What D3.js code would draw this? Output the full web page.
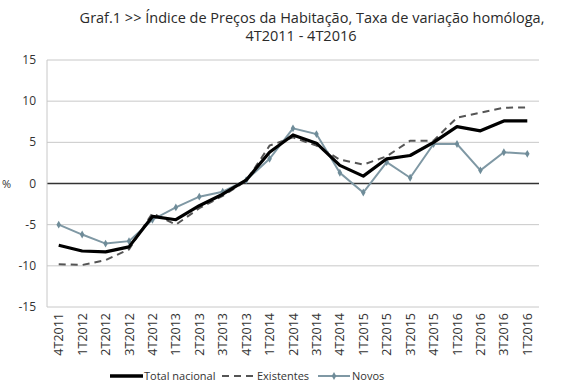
<!DOCTYPE html>
<html>
<head>
<meta charset="utf-8">
<script src="https://cdn.jsdelivr.net/npm/d3@7"></script>
<style>
  body { margin: 0; background: #fff; }
  text { font-family: "Open Sans", "Liberation Sans", sans-serif; }
</style>
</head>
<body>
<svg id="chart" width="580" height="387"></svg>
<script>
var quarters = ["4T2011","1T2012","2T2012","3T2012","4T2012","1T2013","2T2013","3T2013","4T2013",
  "1T2014","2T2014","3T2014","4T2014","1T2015","2T2015","3T2015","4T2015","1T2016","2T2016","3T2016","1T2016b"];
var quarterLabels = ["4T2011","1T2012","2T2012","3T2012","4T2012","1T2013","2T2013","3T2013","4T2013",
  "1T2014","2T2014","3T2014","4T2014","1T2015","2T2015","3T2015","4T2015","1T2016","2T2016","3T2016","1T2016"];
var totalNacional = [-7.5,-8.2,-8.3,-7.7,-4.0,-4.4,-2.7,-1.3,0.4,3.8,5.9,4.9,2.2,0.9,3.0,3.4,5.0,6.9,6.4,7.6,7.6];
var existentes = [-9.8,-9.9,-9.3,-8.0,-3.6,-5.0,-3.0,-1.5,0.3,4.6,5.6,4.6,2.9,2.3,3.3,5.2,5.2,8.0,8.6,9.2,9.25];
var novos = [-5.0,-6.2,-7.3,-7.0,-4.4,-2.9,-1.6,-1.0,0.4,3.0,6.7,6.0,1.3,-1.1,2.6,0.7,4.8,4.8,1.6,3.8,3.6];
var yTicks = [-15,-10,-5,0,5,10,15];

var svg = d3.select("#chart");
var margin = { top: 60, left: 47, right: 41, bottom: 80 },
    width = 580 - margin.left - margin.right,
    height = 307 - margin.top;

var g = svg.append("g").attr("transform", "translate(" + margin.left + "," + margin.top + ")");

var x = d3.scaleBand().domain(quarters).range([0, width]);
var y = d3.scaleLinear().domain([-15, 15]).range([height, 0]);
var cx = function(i) { return x(quarters[i]) + x.bandwidth() / 2; };

// title
svg.append("text").attr("x", 312).attr("y", 23).attr("text-anchor", "middle")
  .style("font-size", "14.5px").attr("fill", "#2a2a2a")
  .text("Graf.1  >> Índice de Preços da Habitação, Taxa de variação homóloga,");
svg.append("text").attr("x", 301).attr("y", 41).attr("text-anchor", "middle")
  .style("font-size", "14.5px").attr("fill", "#2a2a2a")
  .text("4T2011 - 4T2016");

// gridlines
g.selectAll(".grid").data(yTicks).enter().append("line")
  .attr("x1", 0).attr("x2", width)
  .attr("y1", function(d) { return y(d); }).attr("y2", function(d) { return y(d); })
  .attr("stroke", function(d) { return d === 0 ? "#333" : "#c8c8c8"; })
  .attr("stroke-width", function(d) { return d === 0 ? 1.5 : 1; });

g.append("line").attr("x1", 0).attr("x2", 0).attr("y1", 0).attr("y2", height)
  .attr("stroke", "#c8c8c8");

// y labels
g.selectAll(".ylab").data(yTicks).enter().append("text")
  .attr("x", -11).attr("y", function(d) { return y(d) + 4; })
  .attr("text-anchor", "end").style("font-size", "12px").attr("fill", "#333")
  .text(function(d) { return d; });
svg.append("text").attr("x", 2).attr("y", 188).style("font-size", "11px").attr("fill", "#333").text("%");

// x labels
g.selectAll(".xlab").data(quarters).enter().append("text")
  .attr("transform", function(d, i) { return "translate(" + (cx(i) + 4.5) + "," + (height + 6) + ") rotate(-90)"; })
  .attr("text-anchor", "end").style("font-size", "12.5px").attr("fill", "#333")
  .text(function(d, i) { return quarterLabels[i]; });

var line = d3.line().x(function(d, i) { return cx(i); }).y(function(d) { return y(d); });

g.append("path").datum(existentes).attr("d", line).attr("fill", "none")
  .attr("stroke", "#555").attr("stroke-width", 2).attr("stroke-dasharray", "7,5");

g.append("path").datum(novos).attr("d", line).attr("fill", "none")
  .attr("stroke", "#7f98a4").attr("stroke-width", 2);

g.selectAll(".mk").data(novos).enter().append("path")
  .attr("d", d3.symbol().type(d3.symbolDiamond).size(18))
  .attr("transform", function(d, i) { return "translate(" + cx(i) + "," + y(d) + ")"; })
  .attr("fill", "#6f8c99");

g.append("path").datum(totalNacional).attr("d", line).attr("fill", "none")
  .attr("stroke", "#000").attr("stroke-width", 3.2).attr("stroke-linejoin", "round");

// legend
var ly = 376;
var lg = svg.append("g");
lg.append("line").attr("x1", 110).attr("x2", 143).attr("y1", ly).attr("y2", ly)
  .attr("stroke", "#000").attr("stroke-width", 3.5);
lg.append("text").attr("x", 144).attr("y", ly + 4).style("font-size", "11px").attr("fill", "#333").text("Total nacional");
lg.append("line").attr("x1", 222).attr("x2", 255).attr("y1", ly).attr("y2", ly)
  .attr("stroke", "#555").attr("stroke-width", 2).attr("stroke-dasharray", "7,5");
lg.append("text").attr("x", 257).attr("y", ly + 4).style("font-size", "11px").attr("fill", "#333").text("Existentes");
lg.append("line").attr("x1", 318).attr("x2", 350).attr("y1", ly).attr("y2", ly)
  .attr("stroke", "#7f98a4").attr("stroke-width", 2);
lg.append("path").attr("d", d3.symbol().type(d3.symbolDiamond).size(18)())
  .attr("transform", "translate(334," + ly + ")").attr("fill", "#6f8c99");
lg.append("text").attr("x", 352).attr("y", ly + 4).style("font-size", "11px").attr("fill", "#333").text("Novos");
</script>
</body>
</html>
